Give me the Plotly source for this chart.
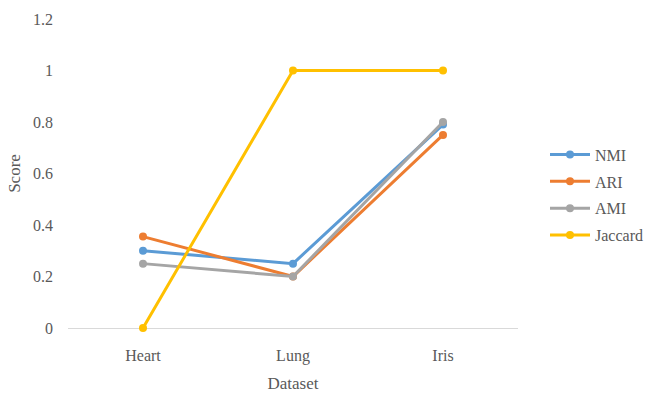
import plotly.graph_objects as go

# Clustering scores per dataset
datasets = ["Heart", "Lung", "Iris"]
nmi = [0.30, 0.25, 0.79]
ari = [0.355, 0.20, 0.75]
ami = [0.25, 0.20, 0.80]
jaccard = [0.0, 1.0, 1.0]

series = [
    ("NMI", nmi, "#5B9BD5"),
    ("ARI", ari, "#ED7D31"),
    ("AMI", ami, "#A5A5A5"),
    ("Jaccard", jaccard, "#FFC000"),
]

font_family = "Liberation Serif, Times New Roman, serif"
text_color = "#595959"

fig = go.Figure()
for name, vals, color in series:
    fig.add_trace(go.Scatter(
        x=datasets, y=vals, name=name, mode="lines+markers",
        legendgroup=name, cliponaxis=False,
        line=dict(color=color, width=3),
        marker=dict(color=color, size=8),
    ))

fig.update_layout(
    width=646, height=393,
    margin=dict(l=68, r=128, t=19, b=65, autoexpand=False),
    paper_bgcolor="white", plot_bgcolor="white",
    font=dict(family=font_family, size=16, color=text_color),
    showlegend=True,
    legend=dict(
        x=1.06, xanchor="left", y=0.43, yanchor="middle",
        font=dict(family=font_family, size=16, color=text_color),
        itemwidth=40, traceorder="grouped", tracegroupgap=3,
    ),
    xaxis=dict(
        title=dict(text="Dataset", standoff=14,
                   font=dict(family=font_family, size=17, color=text_color)),
        showgrid=False, showline=False, zeroline=False,
        ticks="", ticklabelstandoff=16,
        range=[-0.5, 2.5],
    ),
    yaxis=dict(
        title=dict(text="Score", standoff=8,
                   font=dict(family=font_family, size=17, color=text_color)),
        range=[0, 1.2], dtick=0.2, tick0=0,
        showgrid=False, showline=False,
        zeroline=True, zerolinecolor="#D9D9D9", zerolinewidth=1,
        ticks="", ticklabelstandoff=14,
    ),
)

fig.write_html("out.html")
